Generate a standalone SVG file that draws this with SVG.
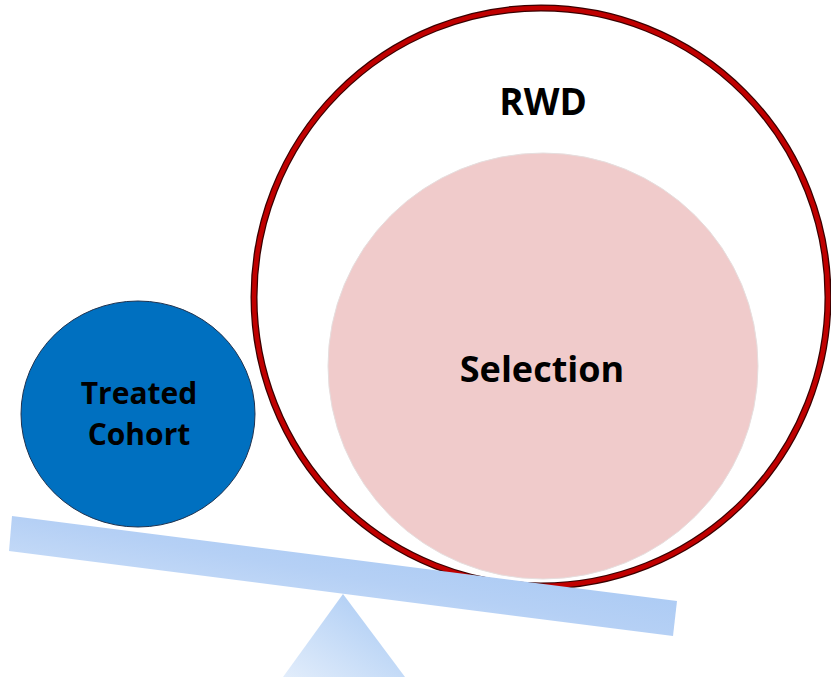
<svg xmlns="http://www.w3.org/2000/svg" width="831" height="677" viewBox="0 0 831 677">
<defs>
<linearGradient id="gBeam" x1="0" y1="1" x2="1" y2="0">
<stop offset="0" stop-color="#E0ECFB"/>
<stop offset="0.5" stop-color="#B5D0F5"/>
<stop offset="1" stop-color="#9CC2F2"/>
</linearGradient>
<linearGradient id="gTri" x1="0" y1="1" x2="1" y2="0">
<stop offset="0" stop-color="#E2EDFB"/>
<stop offset="1" stop-color="#A6C8F3"/>
</linearGradient>
<style>
.lbl{font-family:"Open Sans","Liberation Sans",sans-serif;font-weight:bold;fill:#000;text-anchor:middle}
</style>
</defs>
<rect width="831" height="677" fill="#fff"/>
<g id="fulcrum"><polygon points="343,594 283,677 405,677" fill="url(#gTri)"/></g>
<g id="rwd">
<ellipse cx="541" cy="297" rx="287" ry="289" fill="#fff" stroke="#3a0000" stroke-width="7"/>
<ellipse cx="541" cy="297" rx="287" ry="289" fill="none" stroke="#C00000" stroke-width="4.5"/>
<text class="lbl" x="543" y="115" font-size="37">RWD</text>
</g>
<g id="beam"><polygon points="12,516 677,601 673,636 9,551" fill="url(#gBeam)"/></g>
<g id="selection">
<ellipse cx="543" cy="366" rx="215" ry="213" fill="#F0CBCB" stroke="#e6dede" stroke-width="1"/>
<text class="lbl" x="542" y="382" font-size="36">Selection</text>
</g>
<g id="treated">
<ellipse cx="138" cy="414" rx="117" ry="113" fill="#0070C0" stroke="#1f3350" stroke-width="1"/>
<text class="lbl" x="139" y="404" font-size="30">Treated</text>
<text class="lbl" x="139" y="445" font-size="30">Cohort</text>
</g>
<g id="connectors"/>
</svg>
